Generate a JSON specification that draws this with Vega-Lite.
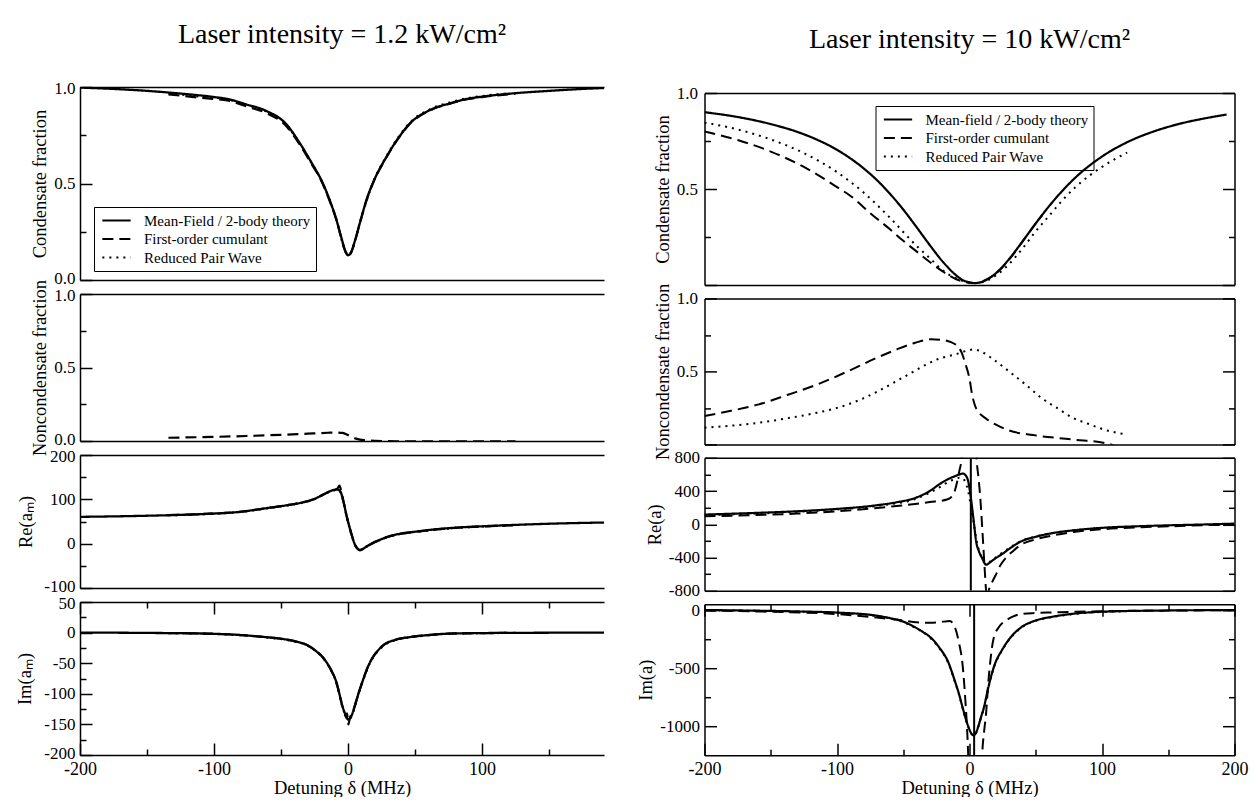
{
"$schema": "https://vega.github.io/schema/vega-lite/v6.json",
"background": "white",
"padding": {"left": 15, "top": 21, "right": 5, "bottom": 0},
"config": {
  "view": {"stroke": null},
  "font": "Liberation Serif",
  "axis": {"domainColor": "black", "domainWidth": 1.5, "tickColor": "black", "tickWidth": 1.5, "tickSize": -12,
    "labelFont": "Liberation Serif", "labelFontSize": 17, "labelColor": "black", "labelPadding": 17,
    "titleFont": "Liberation Serif", "titleFontSize": 18.5, "titleFontWeight": "normal", "titleColor": "black", "titlePadding": 4,
    "grid": false, "labelOverlap": false, "labelFlush": false, "labelBound": false},
  "axisBottom": {"labelFontSize": 18},
  "title": {"font": "Liberation Serif", "fontWeight": "normal", "color": "black", "fontSize": 28}
},
"datasets": {
"lp1": [
{"s":"mf","x":-200,"y":0.997},{"s":"mf","x":-175,"y":0.99},{"s":"mf","x":-150,"y":0.98},{"s":"mf","x":-125,"y":0.966},{"s":"mf","x":-100,"y":0.948},{"s":"mf","x":-90,"y":0.938},{"s":"mf","x":-76,"y":0.91},{"s":"mf","x":-61,"y":0.876},{"s":"mf","x":-46,"y":0.807},{"s":"mf","x":-37,"y":0.72},{"s":"mf","x":-28,"y":0.617},{"s":"mf","x":-19,"y":0.504},{"s":"mf","x":-14,"y":0.42},{"s":"mf","x":-9,"y":0.32},{"s":"mf","x":-5,"y":0.22},{"s":"mf","x":-2,"y":0.15},{"s":"mf","x":0,"y":0.128},{"s":"mf","x":2,"y":0.14},{"s":"mf","x":5,"y":0.2},{"s":"mf","x":9,"y":0.3},{"s":"mf","x":14,"y":0.42},{"s":"mf","x":19,"y":0.51},{"s":"mf","x":28,"y":0.63},{"s":"mf","x":37,"y":0.73},{"s":"mf","x":46,"y":0.81},{"s":"mf","x":61,"y":0.88},{"s":"mf","x":76,"y":0.915},{"s":"mf","x":90,"y":0.94},{"s":"mf","x":100,"y":0.95},{"s":"mf","x":125,"y":0.968},{"s":"mf","x":150,"y":0.98},{"s":"mf","x":175,"y":0.99},{"s":"mf","x":200,"y":0.997},
{"s":"cum","x":-134,"y":0.962},{"s":"cum","x":-107,"y":0.942},{"s":"cum","x":-90,"y":0.93},{"s":"cum","x":-76,"y":0.9},{"s":"cum","x":-61,"y":0.865},{"s":"cum","x":-46,"y":0.797},{"s":"cum","x":-37,"y":0.712},{"s":"cum","x":-28,"y":0.61},{"s":"cum","x":-19,"y":0.5},{"s":"cum","x":-14,"y":0.415},{"s":"cum","x":-9,"y":0.318},{"s":"cum","x":-5,"y":0.218},{"s":"cum","x":-2,"y":0.148},{"s":"cum","x":0,"y":0.126},{"s":"cum","x":2,"y":0.138},{"s":"cum","x":5,"y":0.198},{"s":"cum","x":9,"y":0.298},{"s":"cum","x":14,"y":0.418},{"s":"cum","x":19,"y":0.508},{"s":"cum","x":28,"y":0.628},{"s":"cum","x":37,"y":0.728},{"s":"cum","x":46,"y":0.808},{"s":"cum","x":61,"y":0.878},{"s":"cum","x":76,"y":0.914},{"s":"cum","x":90,"y":0.938},{"s":"cum","x":100,"y":0.948},{"s":"cum","x":125,"y":0.965},
{"s":"rpw","x":-134,"y":0.968},{"s":"rpw","x":-107,"y":0.948},{"s":"rpw","x":-90,"y":0.936},{"s":"rpw","x":-76,"y":0.908},{"s":"rpw","x":-61,"y":0.874},{"s":"rpw","x":-46,"y":0.805},{"s":"rpw","x":-37,"y":0.718},{"s":"rpw","x":-28,"y":0.615},{"s":"rpw","x":-19,"y":0.503},{"s":"rpw","x":-9,"y":0.32},{"s":"rpw","x":-2,"y":0.15},{"s":"rpw","x":0,"y":0.128},{"s":"rpw","x":2,"y":0.14},{"s":"rpw","x":9,"y":0.302},{"s":"rpw","x":19,"y":0.512},{"s":"rpw","x":28,"y":0.633},{"s":"rpw","x":37,"y":0.734},{"s":"rpw","x":46,"y":0.814},{"s":"rpw","x":61,"y":0.884},{"s":"rpw","x":76,"y":0.92},{"s":"rpw","x":90,"y":0.943},{"s":"rpw","x":100,"y":0.953},{"s":"rpw","x":121,"y":0.968}
],
"lp2": [
{"s":"cum","x":-134,"y":0.022},{"s":"cum","x":-110,"y":0.026},{"s":"cum","x":-76,"y":0.034},{"s":"cum","x":-50,"y":0.042},{"s":"cum","x":-30,"y":0.05},{"s":"cum","x":-15,"y":0.056},{"s":"cum","x":-9,"y":0.058},{"s":"cum","x":-4,"y":0.055},{"s":"cum","x":0,"y":0.04},{"s":"cum","x":3,"y":0.028},{"s":"cum","x":6,"y":0.016},{"s":"cum","x":9,"y":0.009},{"s":"cum","x":13,"y":0.005},{"s":"cum","x":20,"y":0.001},{"s":"cum","x":40,"y":-0.002},{"s":"cum","x":80,"y":-0.003},{"s":"cum","x":125,"y":-0.003}
],
"lp3": [
{"s":"mf","x":-200,"y":60.5},{"s":"mf","x":-150,"y":63},{"s":"mf","x":-107,"y":67},{"s":"mf","x":-80,"y":72},{"s":"mf","x":-61,"y":80},{"s":"mf","x":-45,"y":87},{"s":"mf","x":-34,"y":93},{"s":"mf","x":-25,"y":101},{"s":"mf","x":-19,"y":110},{"s":"mf","x":-15,"y":116},{"s":"mf","x":-11,"y":121},{"s":"mf","x":-8,"y":122},{"s":"mf","x":-6,"y":119},{"s":"mf","x":-4.5,"y":108},{"s":"mf","x":-3.4,"y":95},{"s":"mf","x":-1,"y":62},{"s":"mf","x":1.3,"y":35},{"s":"mf","x":3,"y":17},{"s":"mf","x":5.2,"y":-2.5},{"s":"mf","x":7,"y":-11},{"s":"mf","x":8.8,"y":-14},{"s":"mf","x":11,"y":-12},{"s":"mf","x":14,"y":-6},{"s":"mf","x":18,"y":1},{"s":"mf","x":24,"y":9},{"s":"mf","x":30,"y":16},{"s":"mf","x":40,"y":23},{"s":"mf","x":50,"y":27},{"s":"mf","x":61,"y":31},{"s":"mf","x":80,"y":36},{"s":"mf","x":106,"y":40},{"s":"mf","x":140,"y":44},{"s":"mf","x":170,"y":46.5},{"s":"mf","x":200,"y":48},
{"s":"cum","x":-134,"y":64.5},{"s":"cum","x":-107,"y":67},{"s":"cum","x":-80,"y":72},{"s":"cum","x":-61,"y":80},{"s":"cum","x":-45,"y":87},{"s":"cum","x":-34,"y":93},{"s":"cum","x":-25,"y":101},{"s":"cum","x":-19,"y":110},{"s":"cum","x":-15,"y":116},{"s":"cum","x":-11,"y":121},{"s":"cum","x":-8,"y":124},{"s":"cum","x":-6.4,"y":131},{"s":"cum","x":-5,"y":118},{"s":"cum","x":-3.4,"y":95},{"s":"cum","x":-1,"y":62},{"s":"cum","x":1.3,"y":35},{"s":"cum","x":3,"y":17},{"s":"cum","x":5.2,"y":-2.5},{"s":"cum","x":7,"y":-11},{"s":"cum","x":8.8,"y":-15},{"s":"cum","x":11,"y":-12.5},{"s":"cum","x":14,"y":-6.5},{"s":"cum","x":18,"y":0.5},{"s":"cum","x":24,"y":8.5},{"s":"cum","x":30,"y":15.5},{"s":"cum","x":40,"y":22.5},{"s":"cum","x":50,"y":26.5},{"s":"cum","x":61,"y":30.5},{"s":"cum","x":80,"y":35.5},{"s":"cum","x":106,"y":39.5},{"s":"cum","x":125,"y":41.5},
{"s":"rpw","x":-134,"y":64},{"s":"rpw","x":-107,"y":66.5},{"s":"rpw","x":-80,"y":71.5},{"s":"rpw","x":-61,"y":79.5},{"s":"rpw","x":-45,"y":86.5},{"s":"rpw","x":-34,"y":92.5},{"s":"rpw","x":-25,"y":100.5},{"s":"rpw","x":-19,"y":109.5},{"s":"rpw","x":-15,"y":115.5},{"s":"rpw","x":-11,"y":120},{"s":"rpw","x":-8,"y":121},{"s":"rpw","x":-6,"y":118},{"s":"rpw","x":-4.5,"y":107},{"s":"rpw","x":-3.4,"y":94},{"s":"rpw","x":-1,"y":61},{"s":"rpw","x":1.3,"y":34},{"s":"rpw","x":3,"y":16},{"s":"rpw","x":5.2,"y":-3},{"s":"rpw","x":7,"y":-11.5},{"s":"rpw","x":8.8,"y":-14.5},{"s":"rpw","x":11,"y":-12.5},{"s":"rpw","x":14,"y":-6.5},{"s":"rpw","x":18,"y":0.5},{"s":"rpw","x":24,"y":8.5},{"s":"rpw","x":30,"y":15.5},{"s":"rpw","x":40,"y":22.5},{"s":"rpw","x":50,"y":26.5},{"s":"rpw","x":61,"y":30.5},{"s":"rpw","x":80,"y":35.5},{"s":"rpw","x":106,"y":39.5},{"s":"rpw","x":121,"y":41}
],
"lp4": [
{"s":"mf","x":-200,"y":0},{"s":"mf","x":-150,"y":-0.5},{"s":"mf","x":-107,"y":-1.6},{"s":"mf","x":-80,"y":-4},{"s":"mf","x":-61,"y":-7.5},{"s":"mf","x":-50,"y":-10},{"s":"mf","x":-40,"y":-14},{"s":"mf","x":-30,"y":-21},{"s":"mf","x":-24,"y":-30},{"s":"mf","x":-19,"y":-40},{"s":"mf","x":-15,"y":-52},{"s":"mf","x":-12,"y":-64},{"s":"mf","x":-9,"y":-79},{"s":"mf","x":-7,"y":-95},{"s":"mf","x":-4.6,"y":-117},{"s":"mf","x":-3,"y":-128},{"s":"mf","x":-1.5,"y":-136},{"s":"mf","x":0,"y":-142},{"s":"mf","x":1.5,"y":-140},{"s":"mf","x":3,"y":-134},{"s":"mf","x":5,"y":-120},{"s":"mf","x":7.6,"y":-101},{"s":"mf","x":10,"y":-85},{"s":"mf","x":12.2,"y":-71},{"s":"mf","x":15,"y":-55},{"s":"mf","x":18.3,"y":-41},{"s":"mf","x":22,"y":-30},{"s":"mf","x":27.4,"y":-19},{"s":"mf","x":35,"y":-12},{"s":"mf","x":45.6,"y":-7.5},{"s":"mf","x":60,"y":-4},{"s":"mf","x":76,"y":-1.6},{"s":"mf","x":100,"y":-0.8},{"s":"mf","x":150,"y":-0.2},{"s":"mf","x":200,"y":0},
{"s":"cum","x":-134,"y":-0.8},{"s":"cum","x":-107,"y":-1.6},{"s":"cum","x":-80,"y":-4},{"s":"cum","x":-61,"y":-7.5},{"s":"cum","x":-50,"y":-10},{"s":"cum","x":-40,"y":-14},{"s":"cum","x":-30,"y":-21},{"s":"cum","x":-24,"y":-30},{"s":"cum","x":-19,"y":-40},{"s":"cum","x":-15,"y":-52},{"s":"cum","x":-12,"y":-64},{"s":"cum","x":-9,"y":-79},{"s":"cum","x":-7,"y":-95},{"s":"cum","x":-4.6,"y":-117},{"s":"cum","x":-3,"y":-128},{"s":"cum","x":-1.5,"y":-138},{"s":"cum","x":-0.8,"y":-132},{"s":"cum","x":0.3,"y":-150},{"s":"cum","x":1.5,"y":-138},{"s":"cum","x":3,"y":-134},{"s":"cum","x":5,"y":-120},{"s":"cum","x":7.6,"y":-101},{"s":"cum","x":10,"y":-85},{"s":"cum","x":12.2,"y":-71},{"s":"cum","x":15,"y":-55},{"s":"cum","x":18.3,"y":-41},{"s":"cum","x":22,"y":-30},{"s":"cum","x":27.4,"y":-19},{"s":"cum","x":35,"y":-12},{"s":"cum","x":45.6,"y":-7.5},{"s":"cum","x":60,"y":-4},{"s":"cum","x":76,"y":-1.6},{"s":"cum","x":100,"y":-0.8},{"s":"cum","x":125,"y":-0.5},
{"s":"rpw","x":-134,"y":-1},{"s":"rpw","x":-107,"y":-1.8},{"s":"rpw","x":-80,"y":-4.2},{"s":"rpw","x":-61,"y":-7.8},{"s":"rpw","x":-50,"y":-10.5},{"s":"rpw","x":-40,"y":-14.5},{"s":"rpw","x":-30,"y":-21.5},{"s":"rpw","x":-24,"y":-30.5},{"s":"rpw","x":-19,"y":-40.5},{"s":"rpw","x":-15,"y":-52.5},{"s":"rpw","x":-12,"y":-64.5},{"s":"rpw","x":-9,"y":-80},{"s":"rpw","x":-7,"y":-96},{"s":"rpw","x":-4.6,"y":-118},{"s":"rpw","x":-3,"y":-129},{"s":"rpw","x":-1.5,"y":-137},{"s":"rpw","x":0,"y":-143},{"s":"rpw","x":1.5,"y":-141},{"s":"rpw","x":3,"y":-135},{"s":"rpw","x":5,"y":-121},{"s":"rpw","x":7.6,"y":-102},{"s":"rpw","x":10,"y":-86},{"s":"rpw","x":12.2,"y":-72},{"s":"rpw","x":15,"y":-56},{"s":"rpw","x":18.3,"y":-42},{"s":"rpw","x":22,"y":-31},{"s":"rpw","x":27.4,"y":-20},{"s":"rpw","x":35,"y":-12.5},{"s":"rpw","x":45.6,"y":-8},{"s":"rpw","x":60,"y":-4.3},{"s":"rpw","x":76,"y":-1.8},{"s":"rpw","x":100,"y":-1},{"s":"rpw","x":121,"y":-0.5}
],
"rp1": [
{"s":"mf","x":-200,"y":0.9},{"s":"mf","x":-175,"y":0.875},{"s":"mf","x":-150,"y":0.838},{"s":"mf","x":-125,"y":0.785},{"s":"mf","x":-100,"y":0.704},{"s":"mf","x":-90,"y":0.66},{"s":"mf","x":-80,"y":0.608},{"s":"mf","x":-70,"y":0.547},{"s":"mf","x":-60,"y":0.475},{"s":"mf","x":-50,"y":0.393},{"s":"mf","x":-40,"y":0.302},{"s":"mf","x":-30,"y":0.208},{"s":"mf","x":-20,"y":0.12},{"s":"mf","x":-10,"y":0.05},{"s":"mf","x":-5,"y":0.025},{"s":"mf","x":0,"y":0.014},{"s":"mf","x":4,"y":0.01},{"s":"mf","x":10,"y":0.018},{"s":"mf","x":20,"y":0.062},{"s":"mf","x":30,"y":0.136},{"s":"mf","x":40,"y":0.227},{"s":"mf","x":50,"y":0.321},{"s":"mf","x":60,"y":0.41},{"s":"mf","x":70,"y":0.49},{"s":"mf","x":80,"y":0.56},{"s":"mf","x":100,"y":0.669},{"s":"mf","x":120,"y":0.747},{"s":"mf","x":140,"y":0.802},{"s":"mf","x":160,"y":0.842},{"s":"mf","x":180,"y":0.871},{"s":"mf","x":194,"y":0.888},
{"s":"cum","x":-200,"y":0.8},{"s":"cum","x":-175,"y":0.755},{"s":"cum","x":-150,"y":0.695},{"s":"cum","x":-125,"y":0.615},{"s":"cum","x":-100,"y":0.51},{"s":"cum","x":-90,"y":0.465},{"s":"cum","x":-75,"y":0.375},{"s":"cum","x":-60,"y":0.29},{"s":"cum","x":-50,"y":0.23},{"s":"cum","x":-40,"y":0.175},{"s":"cum","x":-30,"y":0.12},{"s":"cum","x":-20,"y":0.07},{"s":"cum","x":-10,"y":0.03},{"s":"cum","x":0,"y":0.012},{"s":"cum","x":4,"y":0.01},{"s":"cum","x":10,"y":0.02},{"s":"cum","x":20,"y":0.06},{"s":"cum","x":30,"y":0.133},{"s":"cum","x":40,"y":0.226},{"s":"cum","x":50,"y":0.32},{"s":"cum","x":55,"y":0.365},
{"s":"rpw","x":-200,"y":0.846},{"s":"rpw","x":-175,"y":0.81},{"s":"rpw","x":-150,"y":0.758},{"s":"rpw","x":-125,"y":0.687},{"s":"rpw","x":-100,"y":0.588},{"s":"rpw","x":-80,"y":0.482},{"s":"rpw","x":-60,"y":0.35},{"s":"rpw","x":-40,"y":0.204},{"s":"rpw","x":-30,"y":0.14},{"s":"rpw","x":-20,"y":0.075},{"s":"rpw","x":-10,"y":0.035},{"s":"rpw","x":0,"y":0.012},{"s":"rpw","x":4,"y":0.01},{"s":"rpw","x":10,"y":0.015},{"s":"rpw","x":20,"y":0.05},{"s":"rpw","x":30,"y":0.11},{"s":"rpw","x":40,"y":0.19},{"s":"rpw","x":50,"y":0.28},{"s":"rpw","x":60,"y":0.36},{"s":"rpw","x":70,"y":0.44},{"s":"rpw","x":80,"y":0.51},{"s":"rpw","x":100,"y":0.615},{"s":"rpw","x":119,"y":0.69}
],
"rp2": [
{"s":"cum","x":-200,"y":0.194},{"s":"cum","x":-180,"y":0.23},{"s":"cum","x":-159,"y":0.274},{"s":"cum","x":-137,"y":0.34},{"s":"cum","x":-115,"y":0.41},{"s":"cum","x":-92,"y":0.5},{"s":"cum","x":-70,"y":0.593},{"s":"cum","x":-55,"y":0.65},{"s":"cum","x":-41,"y":0.696},{"s":"cum","x":-29,"y":0.72},{"s":"cum","x":-20,"y":0.715},{"s":"cum","x":-14,"y":0.7},{"s":"cum","x":-10,"y":0.68},{"s":"cum","x":-6,"y":0.63},{"s":"cum","x":-3,"y":0.55},{"s":"cum","x":0,"y":0.45},{"s":"cum","x":2,"y":0.34},{"s":"cum","x":4,"y":0.27},{"s":"cum","x":7,"y":0.22},{"s":"cum","x":12,"y":0.18},{"s":"cum","x":20,"y":0.135},{"s":"cum","x":30,"y":0.095},{"s":"cum","x":48,"y":0.064},{"s":"cum","x":77.5,"y":0.034},{"s":"cum","x":105,"y":0.004},{"s":"cum","x":110,"y":-0.01},
{"s":"rpw","x":-200,"y":0.114},{"s":"rpw","x":-180,"y":0.128},{"s":"rpw","x":-159,"y":0.148},{"s":"rpw","x":-137,"y":0.18},{"s":"rpw","x":-115,"y":0.217},{"s":"rpw","x":-100,"y":0.25},{"s":"rpw","x":-82,"y":0.308},{"s":"rpw","x":-70,"y":0.36},{"s":"rpw","x":-55,"y":0.434},{"s":"rpw","x":-45,"y":0.485},{"s":"rpw","x":-35,"y":0.536},{"s":"rpw","x":-25,"y":0.58},{"s":"rpw","x":-11,"y":0.616},{"s":"rpw","x":3.6,"y":0.65},{"s":"rpw","x":10,"y":0.63},{"s":"rpw","x":18,"y":0.582},{"s":"rpw","x":27,"y":0.52},{"s":"rpw","x":36,"y":0.456},{"s":"rpw","x":45,"y":0.39},{"s":"rpw","x":54,"y":0.32},{"s":"rpw","x":66,"y":0.25},{"s":"rpw","x":78,"y":0.182},{"s":"rpw","x":90,"y":0.14},{"s":"rpw","x":101,"y":0.103},{"s":"rpw","x":118,"y":0.068}
],
"rp3": [
{"s":"mf","x":-200,"y":117},{"s":"mf","x":-165,"y":135},{"s":"mf","x":-130,"y":157},{"s":"mf","x":-100,"y":185},{"s":"mf","x":-70,"y":229},{"s":"mf","x":-55,"y":265},{"s":"mf","x":-41,"y":317},{"s":"mf","x":-30,"y":400},{"s":"mf","x":-23,"y":479},{"s":"mf","x":-16,"y":545},{"s":"mf","x":-11,"y":579},{"s":"mf","x":-7,"y":603},{"s":"mf","x":-5,"y":611},{"s":"mf","x":-3,"y":590},{"s":"mf","x":-1,"y":519},{"s":"mf","x":0.5,"y":380},{"s":"mf","x":2,"y":197},{"s":"mf","x":3.5,"y":-5},{"s":"mf","x":5,"y":-205},{"s":"mf","x":7,"y":-320},{"s":"mf","x":9.5,"y":-406},{"s":"mf","x":12.5,"y":-486},{"s":"mf","x":15,"y":-465},{"s":"mf","x":17,"y":-440},{"s":"mf","x":20,"y":-405},{"s":"mf","x":24,"y":-365},{"s":"mf","x":30,"y":-295},{"s":"mf","x":39,"y":-205},{"s":"mf","x":50,"y":-150},{"s":"mf","x":63,"y":-105},{"s":"mf","x":80,"y":-70},{"s":"mf","x":107,"y":-36},{"s":"mf","x":130,"y":-22},{"s":"mf","x":151,"y":-12},{"s":"mf","x":175,"y":-3},{"s":"mf","x":200,"y":8},
{"s":"cum","x":-200,"y":96},{"s":"cum","x":-165,"y":110},{"s":"cum","x":-130,"y":129},{"s":"cum","x":-100,"y":157},{"s":"cum","x":-70,"y":197},{"s":"cum","x":-55,"y":220},{"s":"cum","x":-41,"y":245},{"s":"cum","x":-30,"y":268},{"s":"cum","x":-17,"y":298},{"s":"cum","x":-13,"y":340},{"s":"cum","x":-11.2,"y":398},{"s":"cum","x":-9.5,"y":500},{"s":"cum","x":-7.7,"y":639},{"s":"cum","x":-5.9,"y":800},{"s":"cum","x":-4.5,"y":1200},{"s":"cum","x":-3,"y":3000},{"s":"cum","x":4.5,"y":1000},{"s":"cum","x":5.5,"y":750},{"s":"cum","x":6.5,"y":600},{"s":"cum","x":8,"y":350},{"s":"cum","x":10,"y":-150},{"s":"cum","x":11.5,"y":-550},{"s":"cum","x":12.5,"y":-800},{"s":"cum","x":13,"y":-900},{"s":"cum","x":14,"y":-900},{"s":"cum","x":14.5,"y":-800},{"s":"cum","x":17,"y":-700},{"s":"cum","x":19.9,"y":-607},{"s":"cum","x":23,"y":-500},{"s":"cum","x":27.3,"y":-406},{"s":"cum","x":33,"y":-320},{"s":"cum","x":39,"y":-245},{"s":"cum","x":50,"y":-180},{"s":"cum","x":63,"y":-133},{"s":"cum","x":80,"y":-90},{"s":"cum","x":107,"y":-52},{"s":"cum","x":130,"y":-35},{"s":"cum","x":151,"y":-24},{"s":"cum","x":175,"y":-12},{"s":"cum","x":200,"y":-4},
{"s":"rpw","x":-200,"y":110},{"s":"rpw","x":-130,"y":150},{"s":"rpw","x":-100,"y":178},{"s":"rpw","x":-70,"y":222},{"s":"rpw","x":-41,"y":305},{"s":"rpw","x":-30,"y":380},{"s":"rpw","x":-23,"y":440},{"s":"rpw","x":-16,"y":510},{"s":"rpw","x":-11,"y":545},{"s":"rpw","x":-7,"y":562},{"s":"rpw","x":-5,"y":555},{"s":"rpw","x":-3,"y":500},{"s":"rpw","x":-1,"y":400},{"s":"rpw","x":1,"y":220},{"s":"rpw","x":3,"y":40},{"s":"rpw","x":5,"y":-170},{"s":"rpw","x":7,"y":-300},{"s":"rpw","x":10,"y":-420},{"s":"rpw","x":13,"y":-470},{"s":"rpw","x":15,"y":-455},{"s":"rpw","x":18,"y":-420},{"s":"rpw","x":24,"y":-350},{"s":"rpw","x":30,"y":-285},{"s":"rpw","x":39,"y":-200},{"s":"rpw","x":50,"y":-148},{"s":"rpw","x":63,"y":-105},{"s":"rpw","x":80,"y":-70},{"s":"rpw","x":100,"y":-44},{"s":"rpw","x":119,"y":-30}
],
"rp4": [
{"s":"mf","x":-200,"y":0},{"s":"mf","x":-165,"y":-5},{"s":"mf","x":-130,"y":-12},{"s":"mf","x":-100,"y":-22},{"s":"mf","x":-70,"y":-49},{"s":"mf","x":-60,"y":-70},{"s":"mf","x":-50,"y":-100},{"s":"mf","x":-41,"y":-149},{"s":"mf","x":-35,"y":-190},{"s":"mf","x":-30,"y":-230},{"s":"mf","x":-23,"y":-320},{"s":"mf","x":-16,"y":-450},{"s":"mf","x":-11.2,"y":-606},{"s":"mf","x":-8,"y":-720},{"s":"mf","x":-5.3,"y":-835},{"s":"mf","x":-3,"y":-930},{"s":"mf","x":-1,"y":-1000},{"s":"mf","x":1,"y":-1055},{"s":"mf","x":3,"y":-1080},{"s":"mf","x":5,"y":-1055},{"s":"mf","x":6.7,"y":-1000},{"s":"mf","x":9,"y":-910},{"s":"mf","x":11,"y":-835},{"s":"mf","x":13,"y":-730},{"s":"mf","x":15.5,"y":-606},{"s":"mf","x":19,"y":-470},{"s":"mf","x":24.3,"y":-349},{"s":"mf","x":30,"y":-250},{"s":"mf","x":39,"y":-149},{"s":"mf","x":50,"y":-90},{"s":"mf","x":63,"y":-57},{"s":"mf","x":80,"y":-30},{"s":"mf","x":107,"y":-12},{"s":"mf","x":150,"y":-4},{"s":"mf","x":200,"y":0},
{"s":"cum","x":-200,"y":-5},{"s":"cum","x":-150,"y":-15},{"s":"cum","x":-100,"y":-35},{"s":"cum","x":-70,"y":-65},{"s":"cum","x":-50,"y":-90},{"s":"cum","x":-40,"y":-105},{"s":"cum","x":-30,"y":-110},{"s":"cum","x":-20,"y":-100},{"s":"cum","x":-15,"y":-95},{"s":"cum","x":-11,"y":-150},{"s":"cum","x":-8,"y":-280},{"s":"cum","x":-5.3,"y":-463},{"s":"cum","x":-3,"y":-800},{"s":"cum","x":-1.5,"y":-1100},{"s":"cum","x":-0.8,"y":-1300},{"s":"cum","x":0,"y":-1500},{"s":"cum","x":9,"y":-1500},{"s":"cum","x":9.6,"y":-1250},{"s":"cum","x":11,"y":-1050},{"s":"cum","x":12.5,"y":-892},{"s":"cum","x":14,"y":-650},{"s":"cum","x":15.5,"y":-463},{"s":"cum","x":17,"y":-320},{"s":"cum","x":18.4,"y":-235},{"s":"cum","x":22,"y":-150},{"s":"cum","x":27.3,"y":-92},{"s":"cum","x":33,"y":-55},{"s":"cum","x":39,"y":-34},{"s":"cum","x":50,"y":-26},{"s":"cum","x":63,"y":-21},{"s":"cum","x":80,"y":-15},{"s":"cum","x":107,"y":-10},{"s":"cum","x":150,"y":-5},{"s":"cum","x":200,"y":-2},
{"s":"rpw","x":-200,"y":-2},{"s":"rpw","x":-130,"y":-14},{"s":"rpw","x":-100,"y":-24},{"s":"rpw","x":-70,"y":-52},{"s":"rpw","x":-50,"y":-104},{"s":"rpw","x":-41,"y":-153},{"s":"rpw","x":-30,"y":-236},{"s":"rpw","x":-23,"y":-326},{"s":"rpw","x":-16,"y":-456},{"s":"rpw","x":-11.2,"y":-612},{"s":"rpw","x":-8,"y":-725},{"s":"rpw","x":-5.3,"y":-840},{"s":"rpw","x":-3,"y":-935},{"s":"rpw","x":-1,"y":-1005},{"s":"rpw","x":1,"y":-1058},{"s":"rpw","x":3,"y":-1082},{"s":"rpw","x":5,"y":-1058},{"s":"rpw","x":6.7,"y":-1004},{"s":"rpw","x":9,"y":-915},{"s":"rpw","x":11,"y":-840},{"s":"rpw","x":13,"y":-736},{"s":"rpw","x":15.5,"y":-612},{"s":"rpw","x":19,"y":-476},{"s":"rpw","x":24.3,"y":-354},{"s":"rpw","x":30,"y":-255},{"s":"rpw","x":39,"y":-153},{"s":"rpw","x":50,"y":-93},{"s":"rpw","x":63,"y":-60},{"s":"rpw","x":80,"y":-33},{"s":"rpw","x":107,"y":-14},{"s":"rpw","x":119,"y":-11}
],
"poles": [{"panel":"re","x":1},{"panel":"im","x":3.5}]
},
"hconcat": [
{
  "spacing": 14, "bounds": "flush",
  "resolve": {"scale": {"strokeDash": "independent"}, "legend": {"strokeDash": "independent"}},
  "vconcat": [
    {"width": 524, "height": 193, "data": {"name": "lp1"},
     "title": {"text": "Laser intensity = 1.2 kW/cm²", "anchor": "middle", "frame": "group", "offset": 30},
     "resolve": {"axis": {"x": "independent", "y": "independent"}},
     "layer": [
      {"transform": [{"filter": "datum.s == 'mf'"}],
       "mark": {"type": "line", "color": "black", "strokeWidth": 2.3, "clip": true, "interpolate": "monotone"},
       "encoding": {
        "x": {"field": "x", "type": "quantitative", "scale": {"domain": [-200, 191], "nice": false, "zero": false}, "axis": {"orient": "bottom", "ticks": false, "labels": false, "title": null}},
        "y": {"field": "y", "type": "quantitative", "scale": {"domain": [0, 1], "nice": false, "zero": false}, "axis": {"orient": "left", "values": [0, 0.25, 0.5, 0.75, 1], "labelExpr": "datum.value % 0.5 == 0 ? format(datum.value, '.1f') : ''", "tickSize": {"condition": {"test": "datum.value % 0.5 != 0", "value": -6}, "value": -12}, "labelOffset": {"condition": [{"test": "datum.value == 1", "value": 1}, {"test": "datum.value == 0", "value": -2}], "value": 0}, "title": "Condensate fraction"}},
        "strokeDash": {"field": "s", "type": "nominal", "scale": {"domain": ["mf", "cum", "rpw"], "range": [[1, 0], [11, 6], [2, 5]]},
          "legend": {"orient": "none", "legendX": 14, "legendY": 120, "title": null, "symbolType": "M-2,0L2,0", "symbolSize": 200, "symbolStrokeWidth": 2, "symbolStrokeColor": "black", "symbolFillColor": "transparent", "labelFont": "Liberation Serif", "labelFontSize": 15, "labelColor": "black", "labelLimit": 0, "labelOffset": 19, "symbolOffset": 9, "rowPadding": 1.5, "padding": 5, "strokeColor": "black",
            "labelExpr": "datum.label == 'mf' ? 'Mean-Field / 2-body theory' : datum.label == 'cum' ? 'First-order cumulant' : 'Reduced Pair Wave'"}}
       }},
      {"transform": [{"filter": "datum.s != 'mf'"}],
       "mark": {"type": "line", "color": "black", "strokeWidth": 2.2, "clip": true, "interpolate": "monotone"},
       "encoding": {
        "x": {"field": "x", "type": "quantitative", "axis": {"orient": "top", "ticks": false, "labels": false, "title": null}},
        "y": {"field": "y", "type": "quantitative", "axis": null},
        "strokeDash": {"field": "s", "type": "nominal"}
       }}
     ]},
    {"width": 524, "height": 147, "data": {"name": "lp2"},
     "resolve": {"axis": {"x": "independent", "y": "independent"}},
     "layer": [
      {"transform": [{"filter": "datum.s == 'mf'"}],
       "mark": {"type": "line", "color": "black", "strokeWidth": 2.3, "clip": true, "interpolate": "monotone"},
       "encoding": {
        "x": {"field": "x", "type": "quantitative", "scale": {"domain": [-200, 191], "nice": false, "zero": false}, "axis": {"orient": "bottom", "ticks": false, "labels": false, "title": null}},
        "y": {"field": "y", "type": "quantitative", "scale": {"domain": [0, 1], "nice": false, "zero": false}, "axis": {"orient": "left", "values": [0, 0.25, 0.5, 0.75, 1], "labelExpr": "datum.value % 0.5 == 0 ? format(datum.value, '.1f') : ''", "tickSize": {"condition": {"test": "datum.value % 0.5 != 0", "value": -6}, "value": -12}, "labelOffset": {"condition": [{"test": "datum.value == 1", "value": 1}, {"test": "datum.value == 0", "value": -2}], "value": 0}, "title": "Noncondensate fraction"}},
        "strokeDash": {"field": "s", "type": "nominal", "scale": {"domain": ["mf", "cum", "rpw"], "range": [[1, 0], [11, 6], [2, 5]]}, "legend": null}
       }},
      {"transform": [{"filter": "datum.s != 'mf'"}],
       "mark": {"type": "line", "color": "black", "strokeWidth": 2.2, "clip": true, "interpolate": "monotone"},
       "encoding": {
        "x": {"field": "x", "type": "quantitative", "axis": {"orient": "top", "ticks": false, "labels": false, "title": null}},
        "y": {"field": "y", "type": "quantitative", "axis": null},
        "strokeDash": {"field": "s", "type": "nominal", "legend": null}
       }}
     ]},
    {"width": 524, "height": 133, "data": {"name": "lp3"},
     "resolve": {"axis": {"x": "independent", "y": "independent"}},
     "layer": [
      {"transform": [{"filter": "datum.s == 'mf'"}],
       "mark": {"type": "line", "color": "black", "strokeWidth": 2.3, "clip": true, "interpolate": "monotone"},
       "encoding": {
        "x": {"field": "x", "type": "quantitative", "scale": {"domain": [-200, 191], "nice": false, "zero": false}, "axis": {"orient": "bottom", "ticks": false, "labels": false, "title": null}},
        "y": {"field": "y", "type": "quantitative", "scale": {"domain": [-100, 200], "nice": false, "zero": false}, "axis": {"orient": "left", "values": [-100, -50, 0, 50, 100, 150, 200], "labelExpr": "datum.value % 100 == 0 ? '' + datum.value : ''", "tickSize": {"condition": {"test": "datum.value % 100 != 0", "value": -6}, "value": -12}, "labelOffset": {"condition": [{"test": "datum.value == 200", "value": 1}, {"test": "datum.value == -100", "value": -2}], "value": 0}, "title": "Re(aₘ)", "titlePadding": 8}},
        "strokeDash": {"field": "s", "type": "nominal", "scale": {"domain": ["mf", "cum", "rpw"], "range": [[1, 0], [11, 6], [2, 5]]}, "legend": null}
       }},
      {"transform": [{"filter": "datum.s != 'mf'"}],
       "mark": {"type": "line", "color": "black", "strokeWidth": 2.2, "clip": true, "interpolate": "monotone"},
       "encoding": {
        "x": {"field": "x", "type": "quantitative", "axis": {"orient": "top", "ticks": false, "labels": false, "title": null}},
        "y": {"field": "y", "type": "quantitative", "axis": null},
        "strokeDash": {"field": "s", "type": "nominal", "legend": null}
       }}
     ]},
    {"width": 524, "height": 153, "data": {"name": "lp4"},
     "resolve": {"axis": {"x": "independent", "y": "independent"}},
     "layer": [
      {"transform": [{"filter": "datum.s == 'mf'"}],
       "mark": {"type": "line", "color": "black", "strokeWidth": 2.3, "clip": true, "interpolate": "monotone"},
       "encoding": {
        "x": {"field": "x", "type": "quantitative", "scale": {"domain": [-200, 191], "nice": false, "zero": false}, "axis": {"orient": "bottom", "values": [-200, -150, -100, -50, 0, 50, 100, 150], "labelExpr": "datum.value % 100 == 0 ? '' + datum.value : ''", "tickSize": {"condition": {"test": "datum.value % 100 != 0", "value": -6}, "value": -12}, "title": "Detuning δ (MHz)", "titlePadding": -6}},
        "y": {"field": "y", "type": "quantitative", "scale": {"domain": [-200, 50], "nice": false, "zero": false}, "axis": {"orient": "left", "values": [-200, -175, -150, -125, -100, -75, -50, -25, 0, 25, 50], "labelExpr": "datum.value % 50 == 0 ? '' + datum.value : ''", "tickSize": {"condition": {"test": "datum.value % 50 != 0", "value": -6}, "value": -12}, "labelOffset": {"condition": [{"test": "datum.value == 50", "value": 1}, {"test": "datum.value == -200", "value": -2}], "value": 0}, "title": "Im(aₘ)", "titlePadding": 9}},
        "strokeDash": {"field": "s", "type": "nominal", "scale": {"domain": ["mf", "cum", "rpw"], "range": [[1, 0], [11, 6], [2, 5]]}, "legend": null}
       }},
      {"transform": [{"filter": "datum.s != 'mf'"}],
       "mark": {"type": "line", "color": "black", "strokeWidth": 2.2, "clip": true, "interpolate": "monotone"},
       "encoding": {
        "x": {"field": "x", "type": "quantitative", "axis": {"orient": "top", "values": [-200, -150, -100, -50, 0, 50, 100, 150], "labels": false, "title": null, "tickSize": {"condition": {"test": "datum.value % 100 != 0", "value": -6}, "value": -12}}},
        "y": {"field": "y", "type": "quantitative", "axis": null},
        "strokeDash": {"field": "s", "type": "nominal", "legend": null}
       }}
     ]}
  ]
},
{
  "spacing": 0, "bounds": "flush",
  "vconcat": [
    {"width": 530, "height": 6, "data": {"values": []}, "mark": "point"},
    {
  "spacing": 13.4, "bounds": "flush",
  "resolve": {"scale": {"strokeDash": "independent"}, "legend": {"strokeDash": "independent"}},
  "vconcat": [
    {"width": 530, "height": 192, "data": {"name": "rp1"},
     "title": {"text": "Laser intensity = 10 kW/cm²", "anchor": "middle", "frame": "group", "offset": 30},
     "resolve": {"axis": {"x": "independent", "y": "independent"}},
     "layer": [
      {"transform": [{"filter": "datum.s == 'mf'"}],
       "mark": {"type": "line", "color": "black", "strokeWidth": 2.2, "clip": true, "interpolate": "monotone"},
       "encoding": {
        "x": {"field": "x", "type": "quantitative", "scale": {"domain": [-200, 200], "nice": false, "zero": false}, "axis": {"orient": "bottom", "ticks": false, "labels": false, "title": null}},
        "y": {"field": "y", "type": "quantitative", "scale": {"domain": [0, 1], "nice": false, "zero": false}, "axis": {"orient": "left", "values": [0, 0.25, 0.5, 0.75, 1], "labelExpr": "datum.value % 0.5 == 0 && datum.value > 0 ? format(datum.value, '.1f') : ''", "tickSize": {"condition": {"test": "datum.value % 0.5 != 0", "value": -6}, "value": -12}, "labelPadding": 19, "title": "Condensate fraction"}},
        "strokeDash": {"field": "s", "type": "nominal", "scale": {"domain": ["mf", "cum", "rpw"], "range": [[1, 0], [11, 6], [2, 5]]},
          "legend": {"orient": "none", "legendX": 171, "legendY": 13, "title": null, "symbolType": "M-2,0L2,0", "symbolSize": 200, "symbolStrokeWidth": 2, "symbolStrokeColor": "black", "symbolFillColor": "transparent", "labelFont": "Liberation Serif", "labelFontSize": 15, "labelColor": "black", "labelLimit": 0, "labelOffset": 19, "symbolOffset": 9, "rowPadding": 1.5, "padding": 5, "strokeColor": "black",
            "labelExpr": "datum.label == 'mf' ? 'Mean-field / 2-body theory' : datum.label == 'cum' ? 'First-order cumulant' : 'Reduced Pair Wave'"}}
       }},
      {"transform": [{"filter": "datum.s != 'mf'"}],
       "mark": {"type": "line", "color": "black", "strokeWidth": 2, "clip": true, "interpolate": "monotone"},
       "encoding": {
        "x": {"field": "x", "type": "quantitative", "axis": {"orient": "top", "ticks": false, "labels": false, "title": null}},
        "y": {"field": "y", "type": "quantitative", "axis": {"orient": "right", "values": [0, 0.25, 0.5, 0.75, 1], "labels": false, "title": null, "tickSize": {"condition": {"test": "datum.value % 0.5 != 0", "value": -6}, "value": -12}}},
        "strokeDash": {"field": "s", "type": "nominal"}
       }}
     ]},
    {"width": 530, "height": 146, "data": {"name": "rp2"},
     "resolve": {"axis": {"x": "independent", "y": "independent"}},
     "layer": [
      {"transform": [{"filter": "datum.s == 'mf'"}],
       "mark": {"type": "line", "color": "black", "strokeWidth": 2.2, "clip": true, "interpolate": "monotone"},
       "encoding": {
        "x": {"field": "x", "type": "quantitative", "scale": {"domain": [-200, 200], "nice": false, "zero": false}, "axis": {"orient": "bottom", "ticks": false, "labels": false, "title": null}},
        "y": {"field": "y", "type": "quantitative", "scale": {"domain": [0, 1], "nice": false, "zero": false}, "axis": {"orient": "left", "values": [0, 0.25, 0.5, 0.75, 1], "labelExpr": "datum.value % 0.5 == 0 && datum.value > 0 ? format(datum.value, '.1f') : ''", "tickSize": {"condition": {"test": "datum.value % 0.5 != 0", "value": -6}, "value": -12}, "labelPadding": 19, "title": "Noncondensate fraction"}},
        "strokeDash": {"field": "s", "type": "nominal", "scale": {"domain": ["mf", "cum", "rpw"], "range": [[1, 0], [11, 6], [2, 5]]}, "legend": null}
       }},
      {"transform": [{"filter": "datum.s != 'mf'"}],
       "mark": {"type": "line", "color": "black", "strokeWidth": 2, "clip": true, "interpolate": "monotone"},
       "encoding": {
        "x": {"field": "x", "type": "quantitative", "axis": {"orient": "top", "ticks": false, "labels": false, "title": null}},
        "y": {"field": "y", "type": "quantitative", "axis": {"orient": "right", "values": [0, 0.25, 0.5, 0.75, 1], "labels": false, "title": null, "tickSize": {"condition": {"test": "datum.value % 0.5 != 0", "value": -6}, "value": -12}}},
        "strokeDash": {"field": "s", "type": "nominal", "legend": null}
       }}
     ]},
    {"width": 530, "height": 133, "data": {"name": "rp3"},
     "resolve": {"axis": {"x": "independent", "y": "independent"}},
     "layer": [
      {"transform": [{"filter": "datum.s == 'mf'"}],
       "mark": {"type": "line", "color": "black", "strokeWidth": 2.2, "clip": true, "interpolate": "monotone"},
       "encoding": {
        "x": {"field": "x", "type": "quantitative", "scale": {"domain": [-200, 200], "nice": false, "zero": false}, "axis": {"orient": "bottom", "ticks": false, "labels": false, "title": null}},
        "y": {"field": "y", "type": "quantitative", "scale": {"domain": [-800, 800], "nice": false, "zero": false}, "axis": {"orient": "left", "values": [-800, -600, -400, -200, 0, 200, 400, 600, 800], "labelExpr": "datum.value % 400 == 0 ? '' + datum.value : ''", "tickSize": {"condition": {"test": "datum.value % 400 != 0", "value": -6}, "value": -12}, "title": "Re(a)"}},
        "strokeDash": {"field": "s", "type": "nominal", "scale": {"domain": ["mf", "cum", "rpw"], "range": [[1, 0], [11, 6], [2, 5]]}, "legend": null}
       }},
      {"transform": [{"filter": "datum.s != 'mf'"}],
       "mark": {"type": "line", "color": "black", "strokeWidth": 2, "clip": true, "interpolate": "monotone"},
       "encoding": {
        "x": {"field": "x", "type": "quantitative", "axis": {"orient": "top", "ticks": false, "labels": false, "title": null}},
        "y": {"field": "y", "type": "quantitative", "axis": {"orient": "right", "values": [-800, -600, -400, -200, 0, 200, 400, 600, 800], "labels": false, "title": null, "tickSize": {"condition": {"test": "datum.value % 400 != 0", "value": -6}, "value": -12}}},
        "strokeDash": {"field": "s", "type": "nominal", "legend": null}
       }},
      {"data": {"name": "poles"}, "transform": [{"filter": "datum.panel == 're'"}],
       "mark": {"type": "rule", "color": "black", "strokeWidth": 2, "clip": true},
       "encoding": {"x": {"field": "x", "type": "quantitative", "axis": null}}}
     ]},
    {"width": 530, "height": 151, "data": {"name": "rp4"},
     "resolve": {"axis": {"x": "independent", "y": "independent"}},
     "layer": [
      {"transform": [{"filter": "datum.s == 'mf'"}],
       "mark": {"type": "line", "color": "black", "strokeWidth": 2.2, "clip": true, "interpolate": "monotone"},
       "encoding": {
        "x": {"field": "x", "type": "quantitative", "scale": {"domain": [-200, 200], "nice": false, "zero": false}, "axis": {"orient": "bottom", "values": [-200, -150, -100, -50, 0, 50, 100, 150, 200], "labelExpr": "datum.value % 100 == 0 ? '' + datum.value : ''", "tickSize": {"condition": {"test": "datum.value % 100 != 0", "value": -6}, "value": -12}, "title": "Detuning δ (MHz)", "titlePadding": -6}},
        "y": {"field": "y", "type": "quantitative", "scale": {"domain": [-1250, 50], "nice": false, "zero": false}, "axis": {"orient": "left", "values": [-1000, -750, -500, -250, 0], "labelExpr": "datum.value % 500 == 0 ? '' + datum.value : ''", "tickSize": {"condition": {"test": "datum.value % 500 != 0", "value": -6}, "value": -12}, "title": "Im(a)"}},
        "strokeDash": {"field": "s", "type": "nominal", "scale": {"domain": ["mf", "cum", "rpw"], "range": [[1, 0], [11, 6], [2, 5]]}, "legend": null}
       }},
      {"transform": [{"filter": "datum.s != 'mf'"}],
       "mark": {"type": "line", "color": "black", "strokeWidth": 2, "clip": true, "interpolate": "monotone"},
       "encoding": {
        "x": {"field": "x", "type": "quantitative", "axis": {"orient": "top", "values": [-200, -150, -100, -50, 0, 50, 100, 150, 200], "labels": false, "title": null, "tickSize": {"condition": {"test": "datum.value % 100 != 0", "value": -6}, "value": -12}}},
        "y": {"field": "y", "type": "quantitative", "axis": {"orient": "right", "values": [-1000, -750, -500, -250, 0], "labels": false, "title": null, "tickSize": {"condition": {"test": "datum.value % 500 != 0", "value": -6}, "value": -12}}},
        "strokeDash": {"field": "s", "type": "nominal", "legend": null}
       }},
      {"data": {"name": "poles"}, "transform": [{"filter": "datum.panel == 'im'"}],
       "mark": {"type": "rule", "color": "black", "strokeWidth": 2, "clip": true},
       "encoding": {"x": {"field": "x", "type": "quantitative", "axis": null}}}
     ]}
  ]
    }
  ]
}
],
"spacing": 32.5,
"bounds": "full",
"resolve": {"scale": {"strokeDash": "independent"}, "legend": {"strokeDash": "independent"}}
}
